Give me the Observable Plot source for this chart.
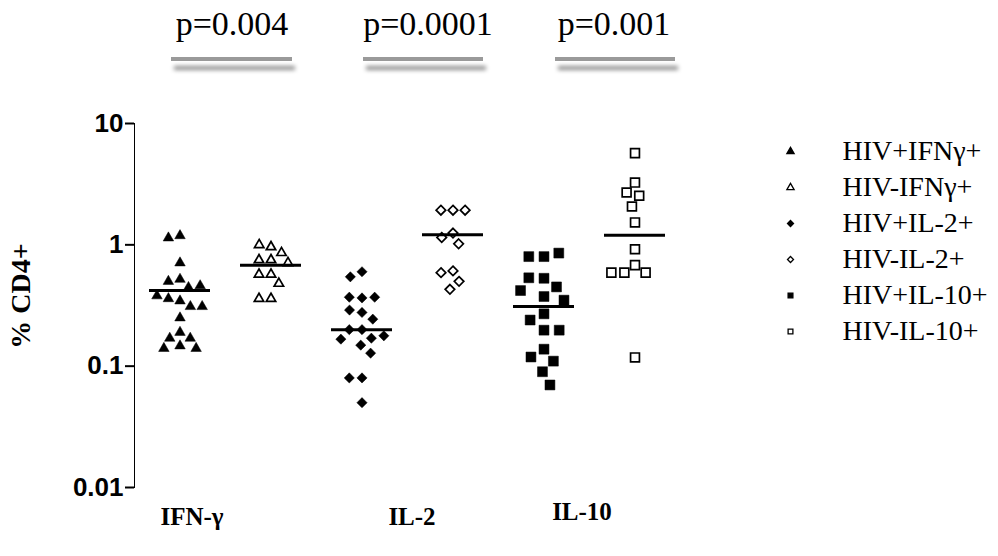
<!DOCTYPE html>
<html><head><meta charset="utf-8">
<script src="https://cdn.jsdelivr.net/npm/d3@7"></script>
<script src="https://cdn.jsdelivr.net/npm/@observablehq/plot@0.6"></script>
<style>
html,body{margin:0;padding:0;background:#fff;}
#wrap{position:relative;width:998px;height:556px;overflow:hidden;background:#fff;}
#chart{position:absolute;left:0;top:0;}
#legend{position:absolute;left:770px;top:128px;}
.pv{position:absolute;font-family:"Liberation Serif","Times New Roman",serif;font-size:34px;line-height:1;transform:translate(-50%,-50%);white-space:nowrap;color:#000;}
.bar{position:absolute;height:4px;background:#9a9a9a;box-shadow:3px 9px 4px rgba(0,0,0,0.45);}
#ylab{position:absolute;left:21px;top:296px;transform:translate(-50%,-50%) rotate(-90deg);font-family:"Liberation Serif","Times New Roman",serif;font-weight:bold;font-size:28px;line-height:1;white-space:nowrap;color:#000;}
#chart svg g[aria-label^="y-axis"] path{stroke-width:2px;}
#chart svg g[aria-label^="y-axis"] line{stroke-width:2px;}
</style></head><body>
<div id="wrap"><div id="chart"></div><div id="legend"></div><div id="ylab"></div></div>
<script>
// ---- data ----
const series = ["HIV+IFNγ+","HIV-IFNγ+","HIV+IL-2+","HIV-IL-2+","HIV+IL-10+","HIV-IL-10+"];
const cytokines = ["IFN-γ","IL-2","IL-10"];
const pValues = ["p=0.004","p=0.0001","p=0.001"];
const yTicks = [0.01, 0.1, 1, 10];
const yTickLabels = ["0.01","0.1","1","10"];
const yLabel = "% CD4+";

const hivPosIFN  = [1.19,1.14,0.71,0.52,0.50,0.445,0.46,0.345,0.36,0.31,0.38,0.31,0.25,0.19,0.17,0.17,0.147,0.14,0.14];
const hivNegIFN  = [0.96,1.0,0.86,0.75,0.75,0.71,0.57,0.57,0.48,0.36,0.36];
const hivPosIL2  = [0.60,0.545,0.365,0.37,0.37,0.277,0.29,0.244,0.20,0.20,0.17,0.178,0.167,0.149,0.128,0.08,0.08,0.05];
const hivNegIL2  = [1.93,1.93,1.93,1.25,1.15,1.02,0.61,0.59,0.50,0.43];
const hivPosIL10 = [0.80,0.80,0.855,0.53,0.535,0.45,0.42,0.375,0.35,0.27,0.24,0.198,0.198,0.138,0.119,0.11,0.09,0.07];
const hivNegIL10 = [5.7,3.26,2.7,2.54,2.07,1.53,0.92,0.68,0.59,0.59,0.59,0.118];
const medians    = [0.42,0.68,0.20,1.21,0.31,1.2];

// ---- styles ----
const groups  = [hivPosIFN,hivNegIFN,hivPosIL2,hivNegIL2,hivPosIL10,hivNegIL10];
const symbols = ["triangle","triangle","diamond2","diamond2","square","square"];
const filled  = [true,false,true,false,true,false];
const radii   = [3.9,3.5,4.6,4.3,5.6,5.0];
const pads    = [4,5,3.5,3.5,4,3];
const serif = "Liberation Serif, Times New Roman, serif";
const sans = "Liberation Sans, Arial, sans-serif";
const labelDx = [12,50,38];
const labelDy = [37,37,32];
const pvCenters = [232,428,614];
const bars = [[171,292],[363,483],[555,675]];

const marks = [];
groups.forEach((vals, i) => {
  marks.push(Plot.dot(vals, Plot.dodgeX({anchor:"middle", padding: pads[i]}, {
    y: d => d, fx: () => series[i], symbol: symbols[i], r: radii[i],
    fill: filled[i] ? "black" : "white", stroke: "black",
    strokeWidth: filled[i] ? 0.5 : 1.7
  })));
});
marks.push(Plot.tickY(medians, {y: d => d, fx: (d,i) => series[i], stroke: "black", strokeWidth: 3, insetLeft: 15, insetRight: 15}));
cytokines.forEach((c, i) => {
  marks.push(Plot.text([c], {fx: () => series[i*2], text: d => d, frameAnchor: "bottom", dy: labelDy[i], dx: labelDx[i],
    fontFamily: serif, fontWeight: "bold", fontSize: 25}));
});

const chart = Plot.plot({
  width: 998, height: 556,
  marginTop: 123, marginBottom: 69, marginLeft: 134, marginRight: 318,
  style: {fontFamily: sans, fontSize: "26px", fontWeight: "bold", background: "white", overflow: "visible"},
  fx: {domain: series, padding: 0, axis: null},
  y: {type: "log", domain: [0.01, 10], ticks: yTicks, tickFormat: d => yTickLabels[yTicks.indexOf(d)],
      tickSize: 9, tickPadding: 2, line: true, label: null},
  marks
});
document.getElementById("chart").append(chart);
document.getElementById("ylab").textContent = yLabel;

// legend
const legend = Plot.plot({
  width: 228, height: 226, marginTop: 22, marginBottom: 22, marginLeft: 0, marginRight: 0,
  y: {type: "point", domain: series, axis: null, padding: 0},
  symbol: {domain: series, range: symbols},
  color: {type: "identity"},
  style: {background: "transparent"},
  marks: [
    Plot.dot(series, {y: d => d, frameAnchor: "left", dx: 20, symbol: d => d, r: 2.7,
      fill: (d,i) => filled[i] ? "black" : "white", stroke: "black", strokeWidth: 1.3}),
    Plot.text(series, {y: d => d, frameAnchor: "left", dx: 72, text: d => d, textAnchor: "start",
      fontSize: 28, fontFamily: serif})
  ]
});
document.getElementById("legend").append(legend);

// p-values header
const wrap = document.getElementById("wrap");
pValues.forEach((p, i) => {
  const t = document.createElement("div");
  t.className = "pv"; t.textContent = p;
  t.style.left = pvCenters[i] + "px"; t.style.top = "24px";
  wrap.append(t);
  const b = document.createElement("div");
  b.className = "bar";
  b.style.left = bars[i][0] + "px"; b.style.width = (bars[i][1] - bars[i][0]) + "px"; b.style.top = "57px";
  wrap.append(b);
});
</script></body></html>
